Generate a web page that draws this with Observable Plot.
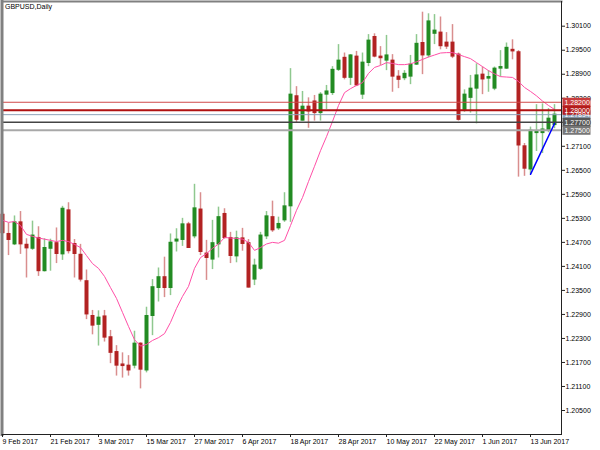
<!DOCTYPE html>
<html><head><meta charset="utf-8">
<script src="https://cdn.jsdelivr.net/npm/d3@7"></script>
<script src="https://cdn.jsdelivr.net/npm/@observablehq/plot@0.6"></script>
<style>body{margin:0;background:#fff}</style>
</head><body><div id="chart"></div>
<script>
const title = "GBPUSD,Daily";
const dates = [
"2017-02-09","2017-02-10","2017-02-13","2017-02-14","2017-02-15","2017-02-16","2017-02-17","2017-02-20","2017-02-21","2017-02-22","2017-02-23","2017-02-24","2017-02-27","2017-02-28",
"2017-03-01","2017-03-02","2017-03-03","2017-03-06","2017-03-07","2017-03-08","2017-03-09","2017-03-10","2017-03-13","2017-03-14","2017-03-15","2017-03-16","2017-03-17","2017-03-20","2017-03-21","2017-03-22","2017-03-23","2017-03-24","2017-03-27","2017-03-28","2017-03-29","2017-03-30","2017-03-31",
"2017-04-03","2017-04-04","2017-04-05","2017-04-06","2017-04-07","2017-04-10","2017-04-11","2017-04-12","2017-04-13","2017-04-14","2017-04-17","2017-04-18","2017-04-19","2017-04-20","2017-04-21","2017-04-24","2017-04-25","2017-04-26","2017-04-27","2017-04-28",
"2017-05-01","2017-05-02","2017-05-03","2017-05-04","2017-05-05","2017-05-08","2017-05-09","2017-05-10","2017-05-11","2017-05-12","2017-05-15","2017-05-16","2017-05-17","2017-05-18","2017-05-19","2017-05-22","2017-05-23","2017-05-24","2017-05-25","2017-05-26","2017-05-29","2017-05-30","2017-05-31",
"2017-06-01","2017-06-02","2017-06-05","2017-06-06","2017-06-07","2017-06-08","2017-06-09","2017-06-12","2017-06-13","2017-06-14","2017-06-15","2017-06-16","2017-06-19"];
const open = [
1.2539,1.2491,1.2465,1.2520,1.2464,1.2454,1.2481,1.2398,1.2454,1.2468,
1.2440,1.2550,1.2466,1.2439,1.2373,1.2286,1.2264,1.2285,1.2233,1.2196,
1.2165,1.2162,1.2162,1.2217,1.2150,1.2286,1.2356,1.2383,1.2356,1.2472,
1.2476,1.2515,1.2485,1.2552,1.2442,1.2427,1.2465,1.2541,1.2481,1.2435,
1.2480,1.2468,1.2377,1.2404,1.2485,1.2533,1.2505,1.2525,1.2560,1.2835,
1.2774,1.2809,1.2822,1.2793,1.2839,1.2843,1.2901,1.2931,1.2881,1.2934,
1.2839,1.2918,1.2983,1.2934,1.2924,1.2924,1.2884,1.2880,1.2884,1.2914,
1.2968,1.2937,1.2991,1.2994,1.2969,1.2969,1.2939,1.2801,1.2831,1.2854,
1.2889,1.2879,1.2854,1.2904,1.2904,1.2951,1.2945,1.2710,1.2652,1.2743,
1.2743,1.2750,1.2763];
const high = [
1.2545,1.2518,1.2536,1.2547,1.2479,1.2523,1.2509,1.2479,1.2478,1.2506,
1.2560,1.2569,1.2477,1.2465,1.2401,1.2300,1.2299,1.2300,1.2250,1.2212,
1.2194,1.2187,1.2248,1.2219,1.2308,1.2377,1.2406,1.2433,1.2491,1.2504,
1.2530,1.2520,1.2615,1.2594,1.2475,1.2525,1.2558,1.2554,1.2495,1.2498,
1.2505,1.2477,1.2428,1.2495,1.2547,1.2573,1.2533,1.2594,1.2904,1.2859,
1.2847,1.2831,1.2837,1.2844,1.2862,1.2909,1.2964,1.2943,1.2939,1.2947,
1.2943,1.2989,1.2991,1.2959,1.2987,1.2939,1.2899,1.2899,1.2937,1.2989,
1.3045,1.3041,1.3039,1.3033,1.2994,1.3014,1.2943,1.2851,1.2887,1.2916,
1.2908,1.2899,1.2908,1.2949,1.2968,1.2976,1.2949,1.2717,1.2758,1.2814,
1.2816,1.2804,1.2814];
const low = [
1.2490,1.2437,1.2462,1.2440,1.2381,1.2450,1.2385,1.2396,1.2398,1.2417,
1.2425,1.2441,1.2381,1.2371,1.2277,1.2239,1.2211,1.2221,1.2167,1.2136,
1.2131,1.2136,1.2154,1.2104,1.2144,1.2237,1.2321,1.2332,1.2337,1.2446,
1.2460,1.2455,1.2479,1.2437,1.2375,1.2402,1.2431,1.2478,1.2417,1.2419,
1.2448,1.2356,1.2362,1.2400,1.2477,1.2495,1.2500,1.2520,1.2520,1.2768,
1.2773,1.2755,1.2773,1.2773,1.2802,1.2837,1.2897,1.2876,1.2862,1.2859,
1.2827,1.2909,1.2931,1.2912,1.2899,1.2845,1.2854,1.2874,1.2864,1.2912,
1.2889,1.2931,1.2964,1.2951,1.2952,1.2929,1.2773,1.2795,1.2793,1.2766,
1.2839,1.2845,1.2849,1.2883,1.2902,1.2926,1.2633,1.2635,1.2640,1.2697,
1.2692,1.2744,1.2754];
const close = [
1.2493,1.2476,1.2520,1.2465,1.2455,1.2487,1.2398,1.2456,1.2470,1.2441,
1.2554,1.2448,1.2441,1.2377,1.2290,1.2262,1.2282,1.2232,1.2194,1.2162,
1.2161,1.2150,1.2217,1.2152,1.2286,1.2358,1.2383,1.2356,1.2469,1.2477,
1.2515,1.2456,1.2555,1.2446,1.2431,1.2468,1.2533,1.2481,1.2436,1.2480,
1.2466,1.2357,1.2412,1.2487,1.2535,1.2500,1.2516,1.2560,1.2839,1.2776,
1.2809,1.2797,1.2793,1.2839,1.2847,1.2901,1.2924,1.2881,1.2937,1.2862,
1.2919,1.2974,1.2934,1.2930,1.2937,1.2884,1.2876,1.2891,1.2914,1.2966,
1.2937,1.3022,1.2999,1.2960,1.2959,1.2934,1.2776,1.2839,1.2854,1.2887,
1.2877,1.2883,1.2904,1.2908,1.2956,1.2947,1.2712,1.2654,1.2749,1.2747,
1.2752,1.2779,1.2789];
const ma = [
1.2525,1.2520,1.2522,1.2512,1.2490,1.2485,1.2481,1.2478,1.2475,1.2472,
1.2475,1.2472,1.2465,1.2457,1.2437,1.2417,1.2405,1.2385,1.2357,1.2330,
1.2295,1.2260,1.2227,1.2211,1.2215,1.2225,1.2232,1.2242,1.2270,1.2305,
1.2335,1.2360,1.2405,1.2432,1.2442,1.2455,1.2466,1.2482,1.2481,1.2480,
1.2478,1.2470,1.2450,1.2457,1.2466,1.2470,1.2468,1.2475,1.2512,1.2550,
1.2582,1.2622,1.2660,1.2699,1.2734,1.2772,1.2812,1.2844,1.2854,1.2862,
1.2869,1.2892,1.2907,1.2912,1.2919,1.2917,1.2914,1.2914,1.2916,1.2921,
1.2927,1.2933,1.2938,1.2943,1.2944,1.2944,1.2939,1.2934,1.2929,1.2919,
1.2909,1.2899,1.2891,1.2884,1.2883,1.2882,1.2872,1.2857,1.2847,1.2836,
1.2823,1.2812,1.2802];
const xTickDates = ["2017-02-09","2017-02-21","2017-03-03","2017-03-15","2017-03-27","2017-04-06","2017-04-18","2017-04-28","2017-05-10","2017-05-22","2017-06-01","2017-06-13"];
const xTickLabels = ["9 Feb 2017","21 Feb 2017","3 Mar 2017","15 Mar 2017","27 Mar 2017","6 Apr 2017","18 Apr 2017","28 Apr 2017","10 May 2017","22 May 2017","1 Jun 2017","13 Jun 2017"];
const yTicks = [1.205,1.211,1.217,1.223,1.229,1.235,1.241,1.247,1.253,1.259,1.265,1.271,1.277,1.283,1.289,1.295,1.301];
const levelValues = [1.2789,1.2820,1.2800,1.2770,1.2750];
const levelLabels = ["1.27894","1.28200","1.28000","1.27700","1.27500"];
const trendDates = ["2017-06-13","2017-06-19"];
const trendValues = [1.2640,1.2767];

// styles
const levelLine = ["#8ea3ba","#d04848","#b01010","#444444","#a8a8a8"];
const levelWidth = [1,1,2,1.5,2];
const levelBox = ["#8ea3ba","#c83c3c","#b41c1c","#555555","#777777"];
const upBody = "#228b22", downBody = "#b22222", upWick = "#8fc88f", downWick = "#d98e8e";

const candles = dates.map((d, i) => ({date: d, open: open[i], high: high[i], low: low[i], close: close[i], ma: ma[i]}));
const levels = levelValues.map((v, i) => ({value: v, label: levelLabels[i], line: levelLine[i], width: levelWidth[i], box: levelBox[i]}));
const trend = trendDates.map((d, i) => ({date: d, value: trendValues[i]}));
const boxSymbol = {draw(ctx) { ctx.moveTo(-14, -4.5); ctx.lineTo(14, -4.5); ctx.lineTo(14, 4.5); ctx.lineTo(-14, 4.5); ctx.closePath(); }};
const up = d => d.close >= d.open;

const chart = Plot.plot({
  width: 600, height: 450,
  marginLeft: 1.5, marginTop: 1, marginRight: 39, marginBottom: 16,
  style: {fontFamily: "'Liberation Sans', Arial, sans-serif", fontSize: "7px", background: "#fff", color: "#000"},
  x: {type: "point", domain: dates, range: [2, 554], padding: 0, axis: null, label: null},
  y: {type: "linear", domain: [1.205, 1.301], range: [410, 25.7], axis: null, label: null},
  marks: [
    Plot.ruleX(candles, {x: "date", y1: "low", y2: "high", stroke: d => up(d) ? upWick : downWick, strokeWidth: 1.5}),
    Plot.ruleX(candles, {x: "date", y1: d => Math.max(d.open, d.close), y2: d => Math.min(d.open, d.close), stroke: d => up(d) ? upBody : downBody, strokeWidth: 4, insetTop: -0.5, insetBottom: -0.5}),
    Plot.line(candles, {x: "date", y: "ma", stroke: "#ff4fa7", strokeWidth: 1}),
    Plot.ruleY(levels, {y: "value", stroke: "line", strokeWidth: "width"}),
    Plot.line(trend, {x: "date", y: "value", stroke: "#0000ff", strokeWidth: 1.5}),
    Plot.frame({anchor: "left", stroke: "#808080", strokeWidth: 3}),
    Plot.frame({anchor: "top", stroke: "#808080", strokeWidth: 2}),
    Plot.frame({anchor: "right", stroke: "#222"}),
    Plot.frame({anchor: "bottom", stroke: "#222"}),
    Plot.axisY({anchor: "right", label: null, ticks: yTicks, tickFormat: d => d.toFixed(5), tickSize: 3, tickPadding: 1, fontSize: 7, stroke: "#222", fill: "#000"}),
    Plot.axisX({label: null, ticks: xTickDates, tickFormat: d => xTickLabels[xTickDates.indexOf(d)], textAnchor: "start", tickSize: 3, tickPadding: 2, fontSize: 7, stroke: "#222", fill: "#000"}),
    Plot.dot(levels, {y: "value", frameAnchor: "right", dx: 15, symbol: boxSymbol, fill: "box", stroke: null}),
    Plot.text(levels, {y: "value", text: "label", frameAnchor: "right", dx: 3, textAnchor: "start", fill: "#fff", fontSize: 7}),
    Plot.text([title], {frameAnchor: "top-left", dx: 3, dy: 2.5, textAnchor: "start", lineAnchor: "top", fontSize: 7, fill: "#000"})
  ]
});
document.getElementById("chart").appendChild(chart);
</script>
</body></html>
